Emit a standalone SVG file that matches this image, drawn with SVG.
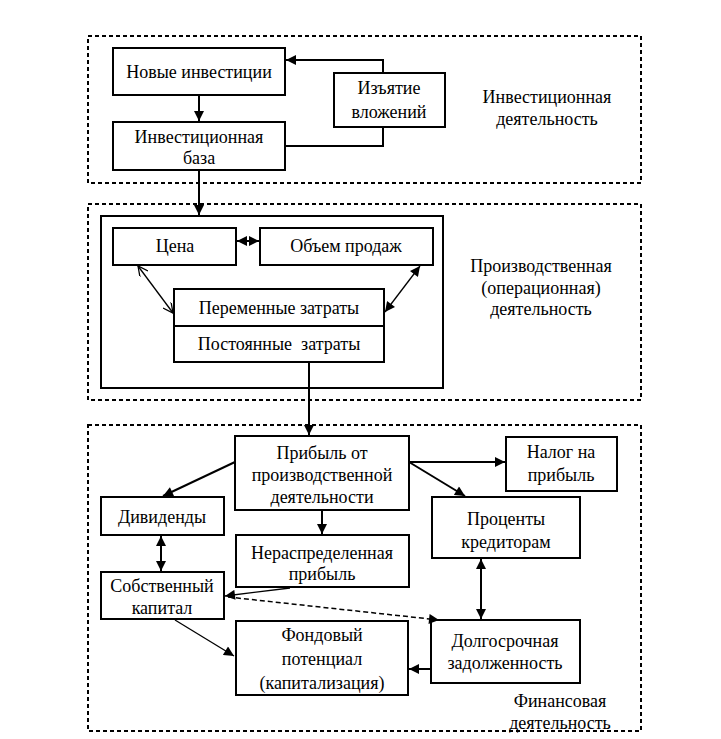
<svg xmlns="http://www.w3.org/2000/svg" width="721" height="739" viewBox="0 0 721 739">
<style>
text{font-family:"Liberation Serif","Times New Roman",serif;font-size:18px;fill:#000;text-anchor:middle;white-space:pre}
.box{fill:#fff;stroke:#000;stroke-width:2}
.sec{fill:none;stroke:#000;stroke-width:2;stroke-dasharray:4 3}
.c{fill:none;stroke:#000;stroke-width:2}
.t{fill:none;stroke:#000;stroke-width:1.3}
.d{fill:none;stroke:#000;stroke-width:1.5;stroke-dasharray:5 3}
</style>
<defs>
<marker id="a" viewBox="0 0 10 10" refX="10" refY="5" markerWidth="11" markerHeight="10" orient="auto-start-reverse" markerUnits="userSpaceOnUse"><path d="M0,0 L10,5 L0,10 z" fill="#000"/></marker>
<marker id="o" viewBox="0 0 10 10" refX="10" refY="5" markerWidth="11" markerHeight="10" orient="auto-start-reverse" markerUnits="userSpaceOnUse"><path d="M0,0 L10,5 L0,10" fill="none" stroke="#000" stroke-width="1.3"/></marker>
</defs>

<g id="sections">
<rect class="sec" x="88" y="36" width="553" height="147"/>
<rect class="sec" x="88" y="204" width="553" height="196"/>
<rect class="sec" x="88" y="425" width="553" height="306"/>
<rect class="box" x="101" y="216" width="342" height="172"/>
<text x="547" y="103">Инвестиционная</text>
<text x="547" y="125">деятельность</text>
<text x="541" y="272">Производственная</text>
<text x="541" y="294">(операционная)</text>
<text x="541" y="315">деятельность</text>
<text x="560" y="707">Финансовая</text>
<text x="560" y="729">деятельность</text>
</g>

<g id="n-new"><rect class="box" x="113" y="48" width="172" height="47"/><text x="199" y="78">Новые инвестиции</text></g>
<g id="n-withdraw"><rect class="box" x="334" y="73" width="111" height="54"/><text x="389" y="94">Изъятие</text><text x="389" y="118">вложений</text></g>
<g id="n-base"><rect class="box" x="113" y="122" width="172" height="48"/><text x="199" y="143">Инвестиционная</text><text x="199" y="164">база</text></g>
<g id="n-price"><rect class="box" x="113" y="228" width="123" height="37"/><text x="175" y="252">Цена</text></g>
<g id="n-volume"><rect class="box" x="260" y="228" width="173" height="37"/><text x="346" y="252">Объем продаж</text></g>
<g id="n-var"><rect class="box" x="174" y="289" width="210" height="37"/><text x="279" y="314">Переменные затраты</text></g>
<g id="n-fixed"><rect class="box" x="174" y="326" width="210" height="36"/><text x="279" y="350">Постоянные  затраты</text></g>
<g id="n-profit"><rect class="box" x="235" y="436" width="174" height="74"/><text x="322" y="459">Прибыль от</text><text x="322" y="481">производственной</text><text x="322" y="503">деятельности</text></g>
<g id="n-tax"><rect class="box" x="506" y="437" width="111" height="54"/><text x="561" y="458">Налог на</text><text x="561" y="481">прибыль</text></g>
<g id="n-div"><rect class="box" x="101" y="497" width="123" height="38"/><text x="162" y="523">Дивиденды</text></g>
<g id="n-interest"><rect class="box" x="432" y="497" width="148" height="61"/><text x="506" y="525">Проценты</text><text x="506" y="548">кредиторам</text></g>
<g id="n-retained"><rect class="box" x="236" y="535" width="173" height="52"/><text x="322" y="559">Нераспределенная</text><text x="322" y="580">прибыль</text></g>
<g id="n-equity"><rect class="box" x="101" y="572" width="123" height="47"/><text x="162" y="592">Собственный</text><text x="162" y="614">капитал</text></g>
<g id="n-fund"><rect class="box" x="236" y="621" width="172" height="74"/><text x="322" y="641">Фондовый</text><text x="322" y="665">потенциал</text><text x="322" y="689">(капитализация)</text></g>
<g id="n-debt"><rect class="box" x="431" y="620" width="149" height="63"/><text x="505" y="647">Долгосрочная</text><text x="505" y="669">задолженность</text></g>

<g id="connectors">
<line class="c" x1="199" y1="95" x2="199" y2="121" marker-end="url(#a)"/>
<polyline class="c" points="383,73 383,60 286,60" marker-end="url(#a)"/>
<polyline class="c" points="383,127 383,146 285,146"/>
<line class="c" x1="199" y1="170" x2="199" y2="215" marker-end="url(#a)"/>
<line class="c" x1="237" y1="241" x2="259" y2="241" marker-start="url(#a)" marker-end="url(#a)"/>
<line class="t" x1="138" y1="266" x2="173" y2="313" marker-start="url(#o)" marker-end="url(#o)"/>
<line class="t" x1="420" y1="266" x2="385" y2="312" marker-start="url(#a)" marker-end="url(#a)"/>
<line class="c" x1="309" y1="362" x2="309" y2="435" marker-end="url(#a)"/>
<line class="c" x1="409" y1="462" x2="505" y2="462" marker-end="url(#a)"/>
<line class="c" x1="409" y1="462" x2="465" y2="496" marker-end="url(#a)"/>
<line class="c" x1="235" y1="462" x2="163" y2="496" marker-end="url(#a)"/>
<line class="c" x1="322" y1="510" x2="322" y2="534" marker-end="url(#a)"/>
<line class="c" x1="161" y1="536" x2="161" y2="571" marker-start="url(#a)" marker-end="url(#a)"/>
<line class="c" x1="481" y1="559" x2="481" y2="619" marker-start="url(#a)" marker-end="url(#a)"/>
<line class="t" x1="290" y1="588" x2="225" y2="596" stroke-width="1.8" marker-end="url(#a)"/>
<line class="d" x1="228" y1="597" x2="439" y2="620" marker-end="url(#a)"/>
<line class="t" x1="175" y1="620" x2="234" y2="656" stroke-width="1.8" marker-end="url(#a)"/>
<line class="c" x1="431" y1="669" x2="409" y2="669" marker-end="url(#a)"/>
</g>
</svg>
